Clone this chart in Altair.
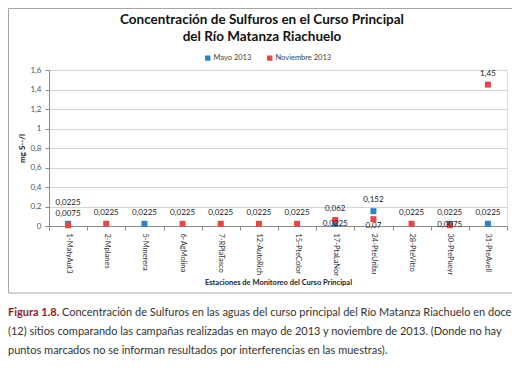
import altair as alt
import pandas as pd

STATIONS = ["1-MatyAut3", "2-Mplanes", "5-Mmerera", "6-AgMolina", "7-RPlaTasco",
            "12-AutoRich", "15-PteColor", "17-PtaLaNor", "24-PteUribu",
            "28-PteVitto", "30-PtePueyr", "31-PteAvell"]
MAYO = [0.0225, None, 0.0225, None, None, None, None, 0.0225, 0.152, None, 0.0225, 0.0225]
NOVIEMBRE = [0.0075, 0.0225, None, 0.0225, 0.0225, 0.0225, 0.0225, 0.062, 0.07, 0.0225, 0.0075, 1.45]
SERIES = ["Mayo 2013", "Noviembre 2013"]
COLORS = ["#2E82C6", "#E4474A"]
Y_TICKS = [0, 0.2, 0.4, 0.6, 0.8, 1.0, 1.2, 1.4, 1.6]
TITLE_LINES = ["Concentración de Sulfuros en el Curso Principal", "del Río Matanza Riachuelo"]
X_TITLE = "Estaciones de Monitoreo del Curso Principal"
Y_TITLE = "mg S--/l"
CAPTION_LEAD = "Figura 1.8."
CAPTION_LINE1 = "Concentración de Sulfuros en las aguas del curso principal del Río Matanza Riachuelo en doce"
CAPTION_LINE2 = "(12) sitios comparando las campañas realizadas en mayo de 2013 y noviembre de 2013. (Donde no hay"
CAPTION_LINE3 = "puntos marcados no se informan resultados por interferencias en las muestras)."

# label placement (style only)
LABEL_PLACEMENT = {
    ("Mayo 2013", "1-MatyAut3"): "high",
    ("Mayo 2013", "17-PtaLaNor"): "on",
    ("Noviembre 2013", "24-PteUribu"): "below",
    ("Noviembre 2013", "30-PtePueyr"): "on",
}
OFFSETS = {"above": -11, "high": -21, "on": 0, "below": 7}

rows = []
for serie, vals in zip(SERIES, [MAYO, NOVIEMBRE]):
    for st, v in zip(STATIONS, vals):
        if v is None:
            continue
        rows.append({"estacion": st, "serie": serie, "valor": v,
                     "pos": LABEL_PLACEMENT.get((serie, st), "above")})
df = pd.DataFrame(rows)

FONT = "Lato"
W, H = 458, 156

x_enc = alt.X("estacion:N", sort=STATIONS,
              scale=alt.Scale(type="band", paddingInner=0, paddingOuter=0),
              axis=alt.Axis(title=X_TITLE, labelAngle=90, labelAlign="left",
                            labelBaseline="middle", labelFontSize=7.5, labelColor="#333333",
                            labelFont=FONT, labelPadding=3, tickBand="extent", tickSize=4,
                            tickColor="#8C8C8C", domainColor="#8C8C8C",
                            titleFont=FONT, titleFontSize=7.5, titleFontWeight="bold",
                            titleColor="#222222", titlePadding=3, grid=False))
y_enc = alt.Y("valor:Q", scale=alt.Scale(domain=[0, 1.6], nice=False),
              axis=alt.Axis(title=Y_TITLE, values=Y_TICKS,
                            labelExpr="replace(format(datum.value, '.1~f'), '.', ',')",
                            labelFontSize=8, labelColor="#555555", labelFont=FONT,
                            tickSize=4, tickColor="#8C8C8C", domainColor="#8C8C8C",
                            gridColor="#D4D4D4", labelPadding=4,
                            titleFont=FONT, titleFontSize=8, titleFontWeight="bold",
                            titleColor="#222222", titlePadding=3))

base = alt.Chart(df)

points = base.mark_square(size=36, opacity=1).encode(
    x=x_enc, y=y_enc,
    color=alt.Color("serie:N", scale=alt.Scale(domain=SERIES, range=COLORS),
                    legend=alt.Legend(title=None, orient="none", legendX=155, legendY=-16,
                                      direction="horizontal", symbolType="square",
                                      symbolSize=28, labelFontSize=7.5, labelFont=FONT,
                                      labelColor="#404040", columnPadding=14,
                                      labelOffset=2, symbolStrokeWidth=0)),
)

label_layers = []
for pos, dy in OFFSETS.items():
    label_layers.append(
        base.transform_filter(alt.datum.pos == pos)
        .transform_calculate(label="replace(format(datum.valor, '.4~f'), '.', ',')")
        .mark_text(dy=dy, fontSize=8, font=FONT, color="#1A1A1A", baseline="middle")
        .encode(x=x_enc, y=y_enc, text="label:N")
    )


def text_line(t, xv, yv, **kw):
    return alt.Chart(pd.DataFrame({"t": [t]})).mark_text(font=FONT, baseline="middle", **kw).encode(
        x=alt.value(xv), y=alt.value(yv), text="t:N")


frame = alt.Chart(pd.DataFrame({"a": [0]})).mark_rect(
    fill="transparent", stroke="#A6A6A6", strokeWidth=1).encode(
    x=alt.value(-40.5), x2=alt.value(465.5), y=alt.value(-61.5), y2=alt.value(223))

title1 = text_line(TITLE_LINES[0], 213, -50, fontSize=13.5, fontWeight="bold", color="#111111", align="center")
title2 = text_line(TITLE_LINES[1], 213, -33, fontSize=13.5, fontWeight="bold", color="#111111", align="center")

cap_lead = text_line(CAPTION_LEAD, -41, 243, fontSize=11, fontWeight="bold", color="#8E1B1E", align="left")
cap1 = text_line(CAPTION_LINE1, 13, 243, fontSize=11, color="#333333", align="left")
cap2 = text_line(CAPTION_LINE2, -41, 262, fontSize=11, color="#333333", align="left")
cap3 = text_line(CAPTION_LINE3, -41, 281, fontSize=11, color="#333333", align="left")

chart = alt.layer(frame, points, *label_layers, title1, title2, cap_lead, cap1, cap2, cap3).properties(
    width=W, height=H,
    autosize=alt.AutoSizeParams(type="none"),
    padding={"left": 41, "top": 62, "right": 5, "bottom": 138},
).configure_view(stroke="#8C8C8C", strokeWidth=1).configure(background="white")

chart.save("out.html", embed_options={"renderer": "svg", "actions": False})
